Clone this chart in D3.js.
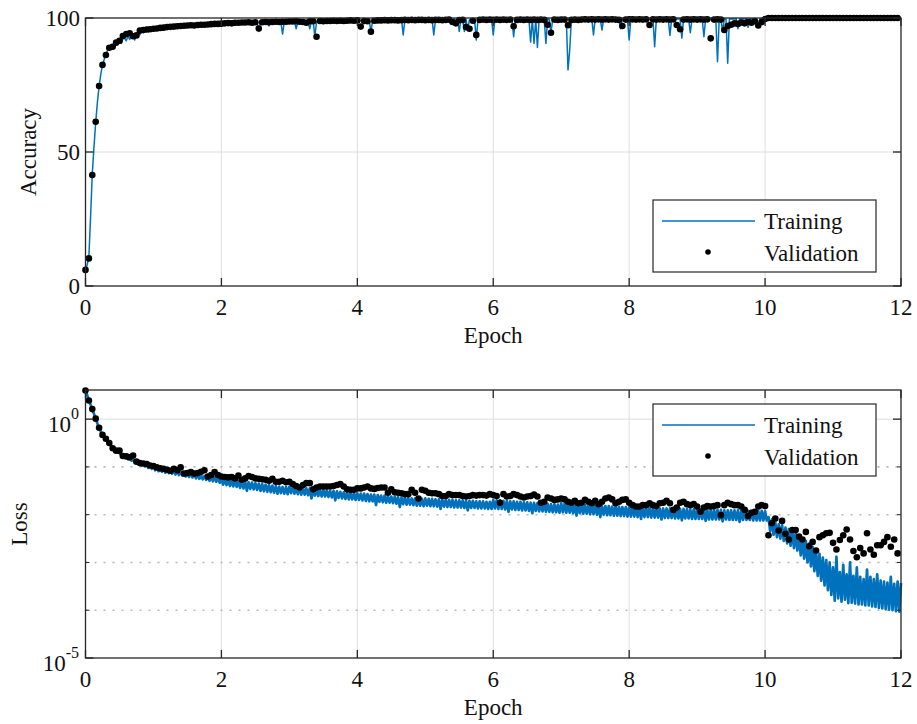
<!DOCTYPE html>
<html>
<head>
<meta charset="utf-8">
<script src="https://cdn.jsdelivr.net/npm/d3@7/dist/d3.min.js"></script>
<style>
  html, body { margin: 0; padding: 0; background: #fff; }
</style>
</head>
<body>
<div id="viz"></div>
<script>
// training curve sampled every 0.025 epoch, validation every 0.05 epoch
const trainStep = 0.025;
const valStep = 0.05;
const xTicks = [0, 2, 4, 6, 8, 10, 12];
const accTicks = [0, 50, 100];
const seriesNames = ['Training', 'Validation'];

const trainAcc = [
  5.5, 8.0, 11.0, 26.0, 42.0, 52.0, 61.0, 68.5, 74.5, 79.0, 82.5, 84.5, 86.5, 88.0, 89.0, 89.8, 90.0, 89.5, 90.8, 91.2,
  91.5, 90.5, 92.2, 92.5, 91.5, 93.2, 92.0, 93.8, 93.5, 91.8, 94.2, 94.5, 93.8, 95.0, 94.5, 95.3, 95.5, 94.8, 95.8, 95.6,
  96.0, 95.6, 96.3, 96.1, 95.4, 96.5, 96.6, 96.2, 96.8, 96.5, 96.9, 96.7, 97.0, 96.1, 97.1, 96.9, 97.2, 97.0, 96.6, 97.3,
  97.2, 97.4, 97.1, 97.5, 97.3, 96.8, 97.5, 97.6, 97.4, 97.7, 97.5, 97.7, 97.2, 97.8, 97.6, 97.8, 97.9, 97.5, 97.9, 97.8,
  98.0, 97.8, 98.1, 98.0, 98.2, 97.9, 98.2, 98.1, 98.3, 98.0, 98.3, 98.2, 98.3, 98.1, 98.4, 98.2, 98.4, 98.3, 98.4, 98.2,
  98.5, 98.3, 95.0, 98.4, 98.5, 98.3, 98.6, 98.4, 97.0, 98.5, 98.6, 98.4, 98.6, 98.5, 98.7, 98.4, 94.0, 98.6, 98.7, 98.5,
  98.7, 98.5, 98.8, 98.6, 96.0, 98.7, 98.8, 98.6, 98.8, 98.7, 98.9, 98.7, 96.0, 98.8, 98.9, 93.0, 98.7, 98.9, 98.8, 99.0,
  98.8, 99.0, 98.9, 99.0, 98.8, 99.1, 98.9, 99.0, 98.9, 99.1, 98.9, 99.1, 99.0, 99.1, 98.9, 99.2, 99.0, 99.1, 99.0, 99.2,
  99.0, 99.2, 99.1, 99.2, 99.0, 99.3, 99.1, 99.2, 94.8, 99.1, 99.3, 99.2, 99.3, 99.1, 99.3, 99.2, 99.4, 99.2, 99.3, 99.1,
  99.4, 99.2, 99.3, 99.2, 99.4, 99.3, 99.4, 93.7, 99.3, 99.4, 99.2, 99.4, 99.3, 99.5, 99.3, 99.4, 99.3, 99.5, 99.3, 99.4,
  99.4, 99.5, 99.3, 99.5, 99.4, 93.7, 99.4, 99.5, 99.3, 99.5, 99.4, 99.5, 99.4, 99.6, 99.4, 99.5, 99.4, 99.6, 99.4, 99.5,
  95.0, 99.5, 99.4, 95.0, 99.5, 95.5, 99.4, 99.6, 99.5, 99.6, 91.8, 99.5, 99.6, 99.4, 99.6, 99.5, 99.6, 99.5, 99.6, 99.5,
  93.7, 99.6, 99.5, 99.6, 99.5, 99.7, 99.5, 99.6, 99.5, 99.7, 99.5, 99.6, 93.0, 99.6, 99.5, 99.7, 99.5, 99.6, 99.5, 99.7,
  99.5, 99.6, 91.0, 99.6, 90.5, 99.5, 89.0, 99.6, 99.5, 99.7, 99.5, 90.5, 99.6, 99.5, 94.5, 99.6, 99.5, 99.7, 99.6, 99.7,
  99.6, 99.7, 99.6, 99.7, 80.6, 88.0, 99.7, 99.6, 99.7, 99.6, 99.7, 99.6, 99.7, 99.6, 99.7, 99.6, 99.7, 99.6, 99.7, 93.7,
  99.7, 99.6, 99.7, 99.6, 95.5, 99.7, 99.6, 99.7, 99.6, 99.7, 99.6, 99.7, 99.6, 99.7, 99.6, 96.0, 99.7, 99.6, 99.7, 99.6,
  91.8, 99.7, 99.6, 99.7, 99.6, 99.7, 99.6, 99.7, 99.6, 99.7, 99.6, 99.7, 99.6, 99.7, 99.6, 89.3, 99.7, 99.6, 99.7, 99.6,
  99.7, 99.6, 99.7, 99.6, 93.5, 99.7, 99.6, 99.7, 99.6, 99.7, 99.6, 92.5, 99.7, 99.6, 99.7, 99.6, 94.5, 99.7, 99.6, 99.7,
  99.7, 99.6, 99.7, 99.6, 93.0, 99.7, 99.6, 99.7, 99.6, 99.7, 99.6, 99.7, 83.7, 99.7, 99.6, 95.0, 99.7, 99.6, 83.1, 99.7,
  99.6, 99.7, 99.6, 99.7, 96.0, 99.7, 99.6, 99.7, 99.6, 99.7, 96.5, 99.7, 99.6, 99.7, 99.6, 99.7, 96.5, 99.7, 99.8, 99.9,
  100, 100, 100, 100, 100, 100, 100, 100, 100, 100, 100, 100, 100, 100, 100, 100, 100, 100, 100, 100,
  100, 100, 100, 100, 100, 100, 100, 100, 100, 100, 100, 100, 100, 100, 100, 100, 100, 100, 100, 100,
  100, 100, 100, 100, 100, 100, 100, 100, 100, 100, 100, 100, 100, 100, 100, 100, 100, 100, 100, 100,
  100, 100, 100, 100, 100, 100, 100, 100, 100, 100, 100, 100, 100, 100, 100, 100, 100, 100, 100, 100,
  100
];

const valAcc = [
  6.0, 10.3, 41.4, 61.3, 74.6, 82.5, 86.2, 88.9, 89.3, 90.8, 91.5, 93.3, 94.0, 94.3, 93.2, 93.5, 95.3, 95.5, 95.7, 95.8,
  96.0, 96.1, 96.3, 96.4, 96.6, 96.7, 96.8, 96.9, 97.0, 97.1, 97.2, 97.3, 97.2, 97.4, 97.5, 97.5, 97.6, 97.7, 97.8, 97.8,
  97.9, 98.0, 98.1, 98.0, 98.2, 98.2, 98.3, 98.3, 98.4, 98.2, 98.4, 96.1, 98.4, 98.5, 98.4, 98.5, 98.6, 98.5, 98.6, 98.6,
  98.7, 98.7, 98.8, 98.6, 98.5, 98.2, 98.8, 98.8, 93.0, 98.9, 98.8, 98.9, 98.9, 99.0, 98.9, 99.0, 98.9, 99.0, 99.1, 99.0,
  99.1, 96.8, 98.9, 98.8, 94.9, 99.0, 99.1, 99.1, 99.2, 99.1, 99.2, 99.2, 99.1, 99.2, 99.3, 99.2, 99.3, 99.2, 99.3, 99.3,
  99.2, 99.3, 99.2, 99.3, 99.3, 99.2, 99.3, 99.4, 98.5, 98.0, 99.2, 99.3, 96.6, 96.0, 99.0, 93.7, 99.3, 99.4, 99.3, 99.4,
  99.3, 99.4, 99.3, 99.4, 99.3, 99.4, 96.9, 99.3, 99.4, 99.3, 99.4, 99.3, 99.4, 99.3, 99.4, 99.3, 97.5, 94.5, 99.4, 99.3,
  99.4, 99.4, 97.3, 99.3, 99.4, 99.3, 99.4, 99.5, 99.4, 99.5, 99.4, 99.5, 99.4, 99.5, 99.4, 99.5, 99.4, 99.3, 97.0, 99.4,
  99.5, 99.5, 99.4, 99.5, 99.4, 99.5, 97.4, 99.5, 99.4, 99.5, 99.4, 99.5, 99.4, 99.5, 97.4, 95.8, 99.4, 99.5, 99.4, 99.5,
  99.4, 99.5, 99.4, 99.5, 92.4, 99.4, 99.5, 99.4, 95.5, 97.0, 97.5, 98.0, 97.8, 98.3, 98.0, 98.6, 98.2, 98.8, 97.2, 98.5,
  99.6, 100, 100, 100, 100, 100, 100, 100, 100, 100, 100, 100, 100, 100, 100, 100, 100, 100, 100, 100,
  100, 100, 100, 100, 100, 100, 100, 100, 100, 100, 100, 100, 100, 100, 100, 100, 100, 100, 100, 100
];

// loss values (log10 of the loss)
const trainLossLog10 = [
  0.60, 0.50, 0.39, 0.30, 0.21, 0.11, 0.01, -0.09, -0.18, -0.26, -0.33, -0.38, -0.42, -0.47, -0.51, -0.57, -0.62, -0.64, -0.67, -0.70,
  -0.71, -0.76, -0.74, -0.80, -0.78, -0.84, -0.80, -0.87, -0.84, -0.91, -0.86, -0.93, -0.89, -0.97, -0.91, -0.99, -0.94, -1.02, -0.96, -1.04,
  -0.97, -1.07, -1.00, -1.09, -1.01, -1.10, -1.03, -1.12, -1.04, -1.13, -1.06, -1.14, -1.07, -1.16, -1.08, -1.17, -1.10, -1.18, -1.11, -1.20,
  -1.12, -1.21, -1.13, -1.22, -1.15, -1.24, -1.16, -1.25, -1.17, -1.26, -1.19, -1.27, -1.20, -1.29, -1.21, -1.30, -1.22, -1.31, -1.24, -1.33,
  -1.24, -1.37, -1.25, -1.38, -1.26, -1.40, -1.27, -1.41, -1.28, -1.42, -1.29, -1.44, -1.30, -1.45, -1.31, -1.50, -1.32, -1.46, -1.33, -1.47,
  -1.34, -1.48, -1.35, -1.50, -1.36, -1.51, -1.37, -1.52, -1.38, -1.53, -1.39, -1.54, -1.40, -1.56, -1.41, -1.55, -1.42, -1.56, -1.42, -1.57,
  -1.41, -1.55, -1.42, -1.56, -1.42, -1.57, -1.43, -1.58, -1.44, -1.58, -1.45, -1.59, -1.45, -1.66, -1.46, -1.60, -1.47, -1.61, -1.48, -1.62,
  -1.48, -1.62, -1.49, -1.63, -1.50, -1.64, -1.50, -1.70, -1.51, -1.65, -1.52, -1.66, -1.53, -1.67, -1.53, -1.68, -1.54, -1.68, -1.55, -1.69,
  -1.55, -1.69, -1.56, -1.70, -1.56, -1.71, -1.57, -1.72, -1.58, -1.72, -1.58, -1.80, -1.59, -1.73, -1.60, -1.74, -1.60, -1.75, -1.61, -1.75,
  -1.62, -1.76, -1.62, -1.77, -1.63, -1.84, -1.64, -1.78, -1.64, -1.79, -1.65, -1.79, -1.66, -1.80, -1.66, -1.81, -1.67, -1.81, -1.67, -1.82,
  -1.66, -1.81, -1.67, -1.82, -1.67, -1.82, -1.68, -1.83, -1.68, -1.88, -1.68, -1.83, -1.69, -1.84, -1.69, -1.84, -1.69, -1.85, -1.70, -1.85,
  -1.70, -1.85, -1.70, -1.86, -1.71, -1.91, -1.71, -1.86, -1.71, -1.86, -1.72, -1.87, -1.72, -1.87, -1.72, -1.87, -1.73, -1.88, -1.73, -1.88,
  -1.69, -1.87, -1.70, -1.88, -1.70, -1.88, -1.71, -1.89, -1.71, -1.94, -1.72, -1.89, -1.72, -1.90, -1.73, -1.90, -1.73, -1.91, -1.74, -1.91,
  -1.74, -1.92, -1.75, -1.97, -1.75, -1.92, -1.76, -1.93, -1.76, -1.93, -1.77, -1.94, -1.77, -1.94, -1.78, -1.95, -1.78, -1.95, -1.79, -1.96,
  -1.76, -1.95, -1.77, -1.96, -1.77, -1.96, -1.78, -1.97, -1.78, -2.02, -1.79, -1.97, -1.79, -1.98, -1.80, -1.98, -1.80, -1.99, -1.80, -1.99,
  -1.81, -2.00, -1.81, -2.05, -1.82, -2.00, -1.82, -2.01, -1.82, -2.01, -1.83, -2.02, -1.83, -2.02, -1.83, -2.03, -1.84, -2.03, -1.84, -2.04,
  -1.84, -2.04, -1.84, -2.04, -1.85, -2.05, -1.85, -2.09, -1.85, -2.05, -1.86, -2.05, -1.86, -2.06, -1.86, -2.06, -1.86, -2.06, -1.87, -2.10,
  -1.87, -2.07, -1.87, -2.07, -1.87, -2.07, -1.88, -2.08, -1.88, -2.08, -1.88, -2.12, -1.88, -2.08, -1.88, -2.08, -1.89, -2.09, -1.89, -2.09,
  -1.89, -2.09, -1.89, -2.09, -1.89, -2.13, -1.90, -2.10, -1.90, -2.10, -1.90, -2.10, -1.90, -2.10, -1.90, -2.14, -1.91, -2.10, -1.91, -2.11,
  -1.91, -2.11, -1.91, -2.11, -1.91, -2.15, -1.91, -2.11, -1.92, -2.11, -1.92, -2.11, -1.92, -2.12, -1.92, -2.12, -1.92, -2.12, -1.92, -2.12,
  -1.93, -2.12, -2.05, -2.35, -2.10, -2.42, -2.15, -2.47, -2.20, -2.50, -2.22, -2.55, -2.27, -2.60, -2.30, -2.65, -2.33, -2.70, -2.38, -2.75,
  -2.45, -2.85, -2.50, -2.92, -2.55, -3.00, -2.60, -3.08, -2.68, -3.18, -2.75, -3.28, -2.82, -3.38, -2.90, -3.48, -2.95, -3.58, -3.00, -3.68,
  -3.10, -3.80, -2.88, -3.75, -3.20, -3.82, -3.05, -3.78, -3.25, -3.85, -3.00, -3.84, -3.28, -3.86, -3.10, -3.88, -3.30, -3.88, -3.35, -3.90,
  -3.15, -3.90, -3.30, -3.92, -3.35, -3.93, -3.25, -3.95, -3.38, -3.96, -3.40, -3.98, -3.42, -3.99, -3.30, -4.00, -3.45, -4.02, -3.40, -4.03,
  -3.43
];

const valLossLog10 = [
  0.60, 0.39, 0.21, 0.01, -0.18, -0.33, -0.41, -0.50, -0.61, -0.66, -0.66, -0.77, -0.78, -0.80, -0.76, -0.89, -0.92, -0.93, -0.94, -0.97,
  -0.98, -1.01, -1.03, -1.04, -1.06, -1.08, -1.04, -1.07, -1.01, -1.14, -1.13, -1.11, -1.14, -1.13, -1.10, -1.07, -1.20, -1.17, -1.11, -1.17,
  -1.20, -1.21, -1.22, -1.21, -1.24, -1.18, -1.27, -1.24, -1.19, -1.21, -1.24, -1.25, -1.26, -1.27, -1.29, -1.25, -1.31, -1.31, -1.29, -1.32,
  -1.31,
  -1.36, -1.40, -1.43, -1.38, -1.34, -1.34, -1.47, -1.43, -1.41, -1.41, -1.41, -1.41, -1.40, -1.38, -1.36, -1.41, -1.47, -1.48, -1.48, -1.45,
  -1.45, -1.43, -1.41, -1.45, -1.46, -1.44, -1.43, -1.43, -1.54, -1.47, -1.53, -1.54, -1.55, -1.57, -1.57, -1.48, -1.54, -1.66, -1.48, -1.50,
  -1.54, -1.55, -1.55, -1.57, -1.61, -1.61, -1.57, -1.59, -1.59, -1.59, -1.61, -1.62, -1.61, -1.59, -1.60, -1.59, -1.59, -1.60, -1.57, -1.59,
  -1.61, -1.75, -1.57, -1.62, -1.61, -1.57, -1.59, -1.62, -1.64, -1.62, -1.61, -1.58, -1.62, -1.75, -1.73, -1.64, -1.66, -1.69, -1.68, -1.66,
  -1.68, -1.73, -1.75, -1.71, -1.76, -1.75, -1.69, -1.73, -1.76, -1.71, -1.78, -1.73, -1.66, -1.64, -1.68, -1.76, -1.73, -1.69, -1.68, -1.75,
  -1.80, -1.83, -1.83, -1.80, -1.80, -1.76, -1.80, -1.82, -1.76, -1.75, -1.71, -1.76, -1.90, -1.85, -1.75, -1.73, -1.78, -1.80, -1.78, -1.83,
  -1.94, -1.85, -1.82, -1.83, -1.82, -1.80, -2.01, -1.80, -1.75, -1.78, -1.80, -1.80, -1.83, -1.90, -2.03, -1.96, -1.94, -1.83, -1.80, -1.82,
  -2.43, -2.18, -2.08, -2.33, -2.13, -2.40, -2.52, -2.32, -2.32, -2.46, -2.52, -2.36, -2.66, -2.57, -2.75, -2.47, -2.43, -2.39, -2.38, -2.59,
  -2.73, -2.53, -2.43, -2.31, -2.52, -2.76, -2.89, -2.70, -2.81, -2.39, -2.73, -2.84, -2.64, -2.64, -2.57, -2.47, -2.67, -2.52, -2.81
];

const lossMajorTicks = [0, -5];
const lossMinorTicks = [-1, -2, -3, -4];

const W = 917, H = 724;
const blue = '#0072BD';
const axisColor = '#262626';
const gridColor = '#dedede';
const fontFamily = 'Liberation Serif';

const svg = d3.select('#viz').append('svg')
  .attr('width', W)
  .attr('height', H);

const x = d3.scaleLinear().domain([0, 12]).range([85.5, 901]);

function trainPoints(arr, f) {
  return arr.map((v, i) => [i * trainStep, f ? f(v) : v]);
}
function valPoints(arr, f) {
  return arr.map((v, i) => [i * valStep, f ? f(v) : v]);
}
const pow10 = v => Math.pow(10, v);

function addText(g, tx, ty, str, anchor) {
  const t = g.append('text')
    .attr('x', tx).attr('y', ty)
    .attr('text-anchor', anchor || 'start')
    .attr('font-size', 23)
    .attr('font-family', fontFamily)
    .attr('fill', '#111');
  if (str !== null) t.text(str);
  return t;
}

function drawXGrid(g, top, bottom) {
  g.selectAll('.xgrid').data(xTicks.slice(1, -1)).enter().append('line')
    .attr('x1', d => x(d)).attr('x2', d => x(d))
    .attr('y1', top).attr('y2', bottom)
    .attr('stroke', gridColor).attr('stroke-width', 1);
}

function drawFrame(g, y, top, bottom, yTickVals, yMinor) {
  const left = x.range()[0], right = x.range()[1];
  g.append('rect')
    .attr('x', left).attr('y', top)
    .attr('width', right - left).attr('height', bottom - top)
    .attr('fill', 'none').attr('stroke', axisColor).attr('stroke-width', 1.3);
  const tl = 8;
  xTicks.forEach(t => {
    g.append('line').attr('x1', x(t)).attr('x2', x(t)).attr('y1', bottom).attr('y2', bottom - tl)
      .attr('stroke', axisColor).attr('stroke-width', 1.3);
    g.append('line').attr('x1', x(t)).attr('x2', x(t)).attr('y1', top).attr('y2', top + tl)
      .attr('stroke', axisColor).attr('stroke-width', 1.3);
    addText(g, x(t), bottom + 29, t, 'middle');
  });
  yTickVals.forEach(v => {
    g.append('line').attr('x1', left).attr('x2', left + tl).attr('y1', y(v)).attr('y2', y(v))
      .attr('stroke', axisColor).attr('stroke-width', 1.3);
    g.append('line').attr('x1', right).attr('x2', right - tl).attr('y1', y(v)).attr('y2', y(v))
      .attr('stroke', axisColor).attr('stroke-width', 1.3);
  });
  (yMinor || []).forEach(v => {
    g.append('line').attr('x1', left).attr('x2', left + 4).attr('y1', y(v)).attr('y2', y(v))
      .attr('stroke', axisColor).attr('stroke-width', 1);
    g.append('line').attr('x1', right).attr('x2', right - 4).attr('y1', y(v)).attr('y2', y(v))
      .attr('stroke', axisColor).attr('stroke-width', 1);
  });
  addText(g, (left + right) / 2, bottom + 57, 'Epoch', 'middle');
}

function drawLegend(g, lx, ly) {
  g.append('rect')
    .attr('x', lx).attr('y', ly)
    .attr('width', 223).attr('height', 72)
    .attr('fill', '#fff').attr('stroke', axisColor).attr('stroke-width', 1.2);
  g.append('line')
    .attr('x1', lx + 9).attr('x2', lx + 102)
    .attr('y1', ly + 21).attr('y2', ly + 21)
    .attr('stroke', blue).attr('stroke-width', 1.5);
  g.append('circle')
    .attr('cx', lx + 55).attr('cy', ly + 52).attr('r', 2.8)
    .attr('fill', '#000');
  addText(g, lx + 111, ly + 29, seriesNames[0]);
  addText(g, lx + 111, ly + 61, seriesNames[1]);
}

// ---------- top: accuracy ----------
const accTop = 18, accBottom = 286;
const accY = d3.scaleLinear().domain([0, 100]).range([accBottom, accTop]);
const gA = svg.append('g');

drawXGrid(gA, accTop, accBottom);
gA.append('line')
  .attr('x1', x(0)).attr('x2', x(12))
  .attr('y1', accY(50)).attr('y2', accY(50))
  .attr('stroke', gridColor).attr('stroke-width', 1);

gA.append('path')
  .datum(trainPoints(trainAcc))
  .attr('d', d3.line().x(d => x(d[0])).y(d => accY(d[1])))
  .attr('fill', 'none').attr('stroke', blue).attr('stroke-width', 1.5)
  .attr('stroke-linejoin', 'round');

gA.selectAll('.vdot').data(valPoints(valAcc)).enter().append('circle')
  .attr('cx', d => x(d[0])).attr('cy', d => accY(d[1])).attr('r', 3.3)
  .attr('fill', '#000');

drawFrame(gA, accY, accTop, accBottom, accTicks);
accTicks.forEach(v => addText(gA, 80, accY(v) + 8, v, 'end'));
addText(gA, 0, 0, 'Accuracy', 'middle')
  .attr('transform', `translate(36,${(accTop + accBottom) / 2}) rotate(-90)`);
drawLegend(gA, 653, 200);

// ---------- bottom: loss ----------
const lossTop = 390, lossBottom = 658;
const lossY = d3.scaleLog().domain([1e-5, Math.pow(10, 0.61)]).range([lossBottom, lossTop]);
const gL = svg.append('g');

drawXGrid(gL, lossTop, lossBottom);
gL.append('line')
  .attr('x1', x(0)).attr('x2', x(12))
  .attr('y1', lossY(1)).attr('y2', lossY(1))
  .attr('stroke', gridColor).attr('stroke-width', 1);
gL.selectAll('.minor').data(lossMinorTicks).enter().append('line')
  .attr('x1', x(0)).attr('x2', x(12))
  .attr('y1', d => lossY(pow10(d))).attr('y2', d => lossY(pow10(d)))
  .attr('stroke', '#b8b8b8').attr('stroke-width', 1.6)
  .attr('stroke-dasharray', '2,7');

gL.append('path')
  .datum(trainPoints(trainLossLog10, pow10))
  .attr('d', d3.line().x(d => x(d[0])).y(d => lossY(d[1])))
  .attr('fill', 'none').attr('stroke', blue).attr('stroke-width', 2.7)
  .attr('stroke-linejoin', 'round');

gL.selectAll('.vdot').data(valPoints(valLossLog10, pow10)).enter().append('circle')
  .attr('cx', d => x(d[0])).attr('cy', d => lossY(d[1])).attr('r', 3.3)
  .attr('fill', '#000');

drawFrame(gL, lossY, lossTop, lossBottom, lossMajorTicks.map(pow10), lossMinorTicks.map(pow10));
lossMajorTicks.forEach(e => {
  const t = addText(gL, 79, lossY(pow10(e)) + 13, null, 'end');
  t.append('tspan').attr('font-family', fontFamily).text('10');
  t.append('tspan').attr('dy', -13).attr('font-size', 16).attr('font-family', fontFamily)
    .text(e === 0 ? '0' : '-5');
});
addText(gL, 0, 0, 'Loss', 'middle')
  .attr('transform', `translate(27,${(lossTop + lossBottom) / 2}) rotate(-90)`);
drawLegend(gL, 653, 404);
</script>
</body>
</html>
